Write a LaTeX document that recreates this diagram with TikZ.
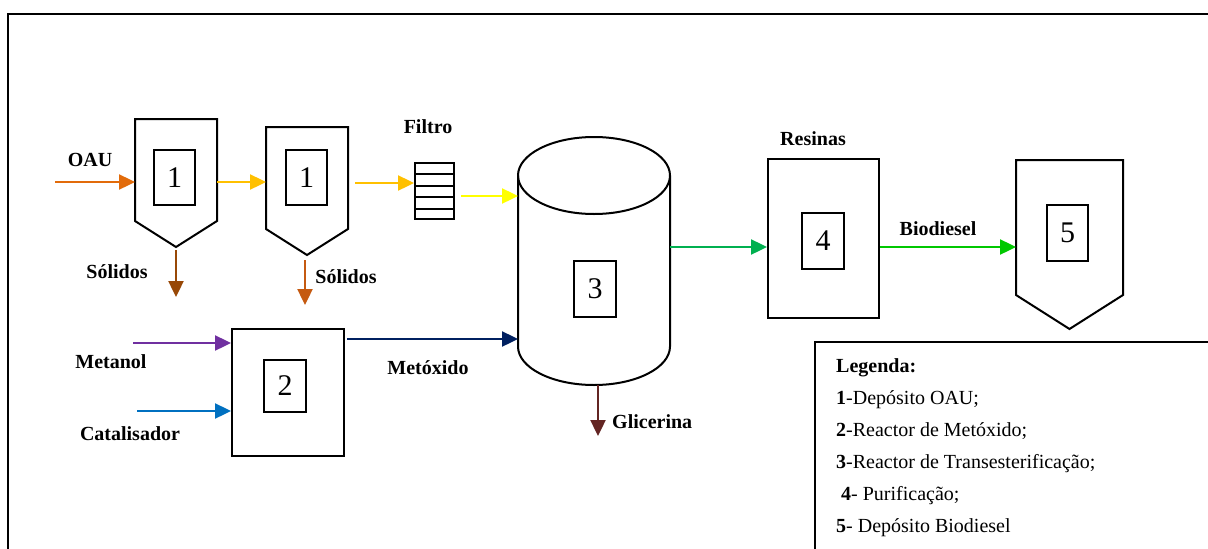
\documentclass[tikz,border=0pt]{standalone}
\usepackage{fontspec}
\setmainfont{Liberation Serif}
\usetikzlibrary{arrows.meta,calc}
\definecolor{cOAU}{HTML}{E26B0A}
\definecolor{cGold}{HTML}{FFC000}
\definecolor{cSol1}{HTML}{984807}
\definecolor{cSol2}{HTML}{C55A11}
\definecolor{cYel}{HTML}{FFFF00}
\definecolor{cMet}{HTML}{7030A0}
\definecolor{cCat}{HTML}{0070C0}
\definecolor{cMeto}{HTML}{002060}
\definecolor{cGli}{HTML}{632523}
\definecolor{cGrn}{HTML}{00B050}
\definecolor{cBio}{HTML}{00C800}
\tikzset{
  flow/.style={line width=2.4pt,-{Triangle[length=16pt,width=15pt]}},
  body/.style={draw=none,minimum width=#1,inner sep=0pt,outer sep=0pt},
  numbox/.style={draw,line width=2pt,inner sep=0pt,font=\fontsize{30}{30}\selectfont},
  lbl/.style={font=\fontsize{20}{24}\selectfont\bfseries,inner sep=0pt},
  legtxt/.style={font=\fontsize{20}{24}\selectfont,anchor=base west,inner sep=0pt},
  outline/.style={line width=2pt,line join=miter},
}
\begin{document}
\begin{tikzpicture}[x=1pt,y=-1pt]
\useasboundingbox (0,0) rectangle (1208,549);
% frame
\draw[line width=2.4pt] (8,549) -- (8,14) -- (1208,14);

% tank 1a
\node[body=82,minimum height=102] (t1a) at (176,170) {};
\draw[outline] (t1a.south west) -- (t1a.north west) -- (t1a.north east) -- (t1a.south east) -- ($(t1a.south)+(0,26)$) coordinate (t1atip) -- cycle;
\node[numbox,minimum width=41,minimum height=55] (n1a) at (174.5,177.5) {1};
% tank 1b
\node[body=82,minimum height=102] (t1b) at (307,178) {};
\draw[outline] (t1b.south west) -- (t1b.north west) -- (t1b.north east) -- (t1b.south east) -- ($(t1b.south)+(0,26)$) coordinate (t1btip) -- cycle;
\node[numbox,minimum width=41,minimum height=55] (n1b) at (306.5,177.5) {1};

% filter
\node[draw,line width=2pt,minimum width=39,minimum height=56,inner sep=0pt] (filt) at (434.5,191) {};
\foreach \yy in {174,185.5,196.5,209} \draw[line width=2pt] (filt.west |- 0,\yy) -- (filt.east |- 0,\yy);

% cylinder
\node[body=152,minimum height=248] (cyl) at (594,261) {};
\draw[outline] (594,175.5) ellipse [x radius=76,y radius=38.5];
\draw[outline] (518,175.5) -- (518,346.5) arc[start angle=180,end angle=360,x radius=76,y radius=-38.5] -- (670,175.5);
\node[numbox,minimum width=42,minimum height=56] (n3) at (595,289) {3};

% box 2
\node[draw,line width=2pt,minimum width=112,minimum height=127,inner sep=0pt] (b2) at (288,392.5) {};
\node[numbox,minimum width=42,minimum height=52] (n2) at (285,386) {2};

% box 4
\node[draw,line width=2pt,minimum width=111,minimum height=159,inner sep=0pt] (b4) at (823.5,238.5) {};
\node[numbox,minimum width=42,minimum height=56] (n4) at (823,241) {4};

% tank 5
\node[body=107,minimum height=135] (t5) at (1069.5,227.5) {};
\draw[outline] (t5.south west) -- (t5.north west) -- (t5.north east) -- (t5.south east) -- ($(t5.south)+(0,34)$) coordinate (t5tip) -- cycle;
\node[numbox,minimum width=41,minimum height=56] (n5) at (1067.5,233) {5};

% free ends
\coordinate (oauS) at (55,182);
\coordinate (sol1E) at (176,297);
\coordinate (sol2S) at (305,260);
\coordinate (sol2E) at (305,305);
\coordinate (metS) at (133,343);
\coordinate (catS) at (137,411);
\coordinate (gliE) at (598,436);

% flows
\draw[flow,cOAU] (oauS) -- (oauS -| t1a.west);
\draw[flow,cGold] (t1a.east |- oauS) -- (t1b.west |- oauS);
\draw[flow,cGold] ($(t1b.east |- 0,183)+(7,0)$) -- (filt.west |- 0,183);
\draw[flow,cYel] ($(filt.east |- 0,196)+(6,0)$) -- (cyl.west |- 0,196);
\draw[flow,cSol1] ($(t1atip)+(0,3)$) -- (sol1E);
\draw[flow,cSol2] (sol2S) -- (sol2E);
\draw[flow,cMet] (metS) -- (metS -| b2.west);
\draw[flow,cCat] (catS) -- (catS -| b2.west);
\draw[flow,cMeto] ($(b2.east |- 0,339)+(2,0)$) -- (cyl.west |- 0,339);
\draw[flow,cGli] (cyl.south -| gliE) -- (gliE);
\draw[flow,cGrn] (cyl.east |- 0,247) -- (b4.west |- 0,247);
\draw[flow,cBio] (b4.east |- 0,247) -- (t5.west |- 0,247);

% labels
\node[lbl] (lOAU) at (90,160) {OAU};
\node[lbl] (lSol1) at (117,272) {Sólidos};
\node[lbl] (lSol2) at (346,277) {Sólidos};
\node[lbl] (lFil) at (428,127) {Filtro};
\node[lbl] (lRes) at (813,139) {Resinas};
\node[lbl] (lBio) at (938,229) {Biodiesel};
\node[lbl] (lMet) at (111,362) {Metanol};
\node[lbl] (lCat) at (130,434) {Catalisador};
\node[lbl] (lMeto) at (428,368) {Metóxido};
\node[lbl,anchor=west] (lGli) at (612,422) {Glicerina};

% legend
\draw[line width=2.4pt] (815,549) -- (815,342) -- (1208,342);
\node[legtxt] (leg0) at (836,372) {\textbf{Legenda:}};
\node[legtxt] (leg1) at (836,404) {\textbf{1}-Depósito OAU;};
\node[legtxt] (leg2) at (836,436) {\textbf{2}-Reactor de Metóxido;};
\node[legtxt] (leg3) at (836,468) {\textbf{3}-Reactor de Transesterificação;};
\node[legtxt] (leg4) at (836,500) {\ \textbf{4}- Purificação;};
\node[legtxt] (leg5) at (836,532) {\textbf{5}- Depósito Biodiesel};
\end{tikzpicture}
\end{document}
